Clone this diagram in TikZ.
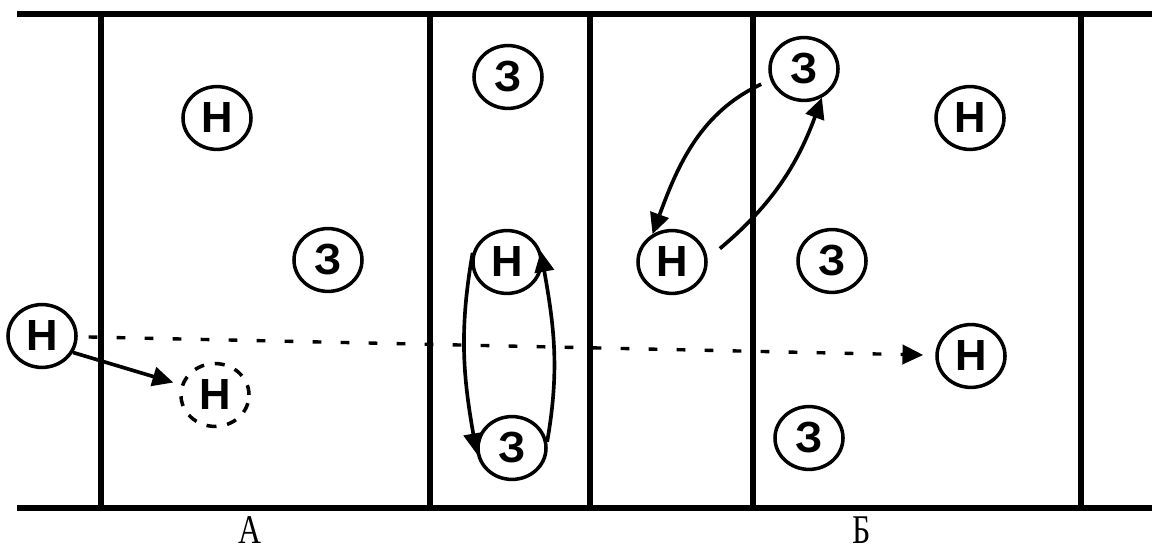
\documentclass[tikz,border=0pt]{standalone}
\usepackage{fontspec}
\setmainfont{Liberation Serif}
\newfontfamily\plrfont{Liberation Sans}
\usepackage{tikz}
\usetikzlibrary{shapes.geometric,arrows.meta}

\begin{document}
\begin{tikzpicture}[x=0.025cm,y=0.025cm,
  plr/.style={draw,ellipse,line width=2.5pt,minimum width=1.7cm,minimum height=1.57cm,inner sep=0pt,font=\plrfont\bfseries\fontsize{31}{31}\selectfont},
  ghost/.style={plr,dash pattern=on 0.25cm off 0.27cm},
  court/.style={line width=4.3pt},
  arr/.style={-{Triangle[length=0.52cm,width=0.48cm]},line width=2.6pt},
  run/.style={arr,line width=2.4pt,dash pattern=on 0.22cm off 0.48cm},
  lbl/.style={font=\fontsize{29}{29}\selectfont,inner sep=0pt,anchor=base}
]
  \useasboundingbox (0,0) rectangle (1152,552);

  % Court
  \draw[court] (17,538) -- (1152,538);
  \draw[court] (17,44) -- (1152,44);
  \foreach \x in {101,430,590,753,1081}
    \draw[court] (\x,538) -- (\x,44);

  % Players
  \node[plr] (hl) at (42,216) {Н};
  \node[ghost] (hd) at (215,157) {Н};
  \node[plr] (ha) at (217,434) {Н};
  \node[plr] (za) at (328,292) {З};
  \node[plr] (zb) at (508,475) {З};
  \node[plr] (hm) at (507,290) {Н};
  \node[plr] (zm) at (512,104) {З};
  \node[plr] (hn) at (672,290) {Н};
  \node[plr] (zn) at (804,483) {З};
  \node[plr] (zc) at (832,291) {З};
  \node[plr] (zd) at (809,114) {З};
  \node[plr] (hr) at (971,196) {Н};
  \node[plr] (he) at (970,434) {Н};

  % Moves
  \draw[run,shorten <=0.27cm,shorten >=0.3cm] (hl) -- (hr);
  \draw[arr,shorten >=0.2cm] (hl.-28) -- (hd);
  \draw[arr] (hm.165) to[out=-100,in=100] (zm.190);
  \draw[arr] (zm.10) to[out=80,in=-80] (hm.18);
  \draw[arr,shorten <=0.25cm] (zn.198) to[out=205,in=70] (hn.125);
  \draw[arr,shorten <=0.4cm] (hn.5) to[out=40,in=-110] (zn.-58);

  % Zones
  \node[lbl] (la) at (250,8) {\scalebox{0.78}[1]{А}};
  \node[lbl] (lb) at (862,8) {\scalebox{0.78}[1]{Б}};
\end{tikzpicture}
\end{document}
